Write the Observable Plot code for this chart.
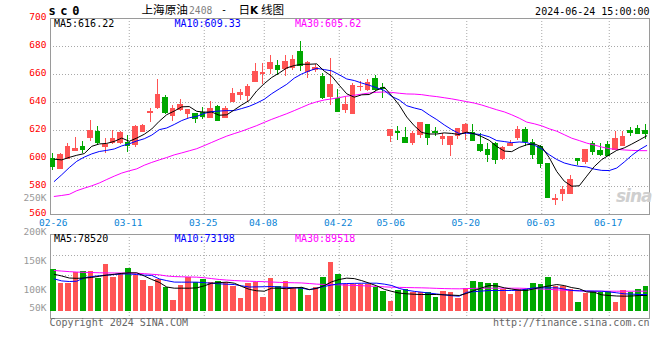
<!DOCTYPE html>
<html><head><meta charset="utf-8">
<script src="https://cdn.jsdelivr.net/npm/d3@7"></script>
<script src="https://cdn.jsdelivr.net/npm/@observablehq/plot@0.6"></script>
<style>
html,body{margin:0;padding:0;background:#fff;}
#wrap{position:relative;width:660px;height:360px;overflow:hidden;background:#fff;}
.t{position:absolute;white-space:nowrap;line-height:1;font-family:"DejaVu Sans Mono",monospace;}
</style></head><body><div id="wrap"></div>
<script>
// ---------------- data ----------------
const dates = ["02-26","02-27","02-28","02-29","03-01","03-04","03-05","03-06","03-07","03-08",
"03-11","03-12","03-13","03-14","03-15","03-18","03-19","03-20","03-21","03-22",
"03-25","03-26","03-27","03-28","03-29","04-01","04-02","04-03","04-08","04-09",
"04-10","04-11","04-12","04-15","04-16","04-17","04-18","04-19","04-22","04-23",
"04-24","04-25","04-26","04-29","04-30","05-06","05-07","05-08","05-09","05-10",
"05-13","05-14","05-15","05-16","05-17","05-20","05-21","05-22","05-23","05-24",
"05-27","05-28","05-29","05-30","05-31","06-03","06-04","06-05","06-06","06-07",
"06-11","06-12","06-13","06-14","06-17","06-18","06-19","06-20","06-21","06-24"];
const open = [599.8,592.6,600.0,605.5,607.9,615.0,619.1,608.5,611.4,611.4,
611.2,610.0,619.0,632.5,636.0,643.4,630.7,634.5,631.9,631.9,
632.5,628.6,637.1,629.0,640.2,645.2,645.0,654.8,660.2,663.6,
666.4,663.6,664.3,676.2,661.9,662.9,658.1,643.6,642.6,635.0,
631.9,650.8,648.6,656.9,650.2,616.4,619.0,614.3,611.2,617.0,
623.9,619.0,613.8,609.8,616.2,617.9,617.9,609.5,606.2,610.2,
600.0,608.8,614.3,620.2,611.4,607.9,596.0,570.5,575.0,575.0,
599.5,597.6,610.7,605.2,610.0,606.0,609.0,619.8,621.4,619.8];
const high = [603.8,603.3,610.5,615.0,612.1,627.0,622.6,614.6,620.0,619.3,
616.2,623.3,624.3,636.0,656.2,644.8,637.6,641.8,634.8,632.4,
636.1,640.6,637.6,637.4,650.0,649.5,652.9,667.9,667.6,673.3,
670.0,673.8,673.6,683.3,669.0,667.1,660.5,671.2,649.0,643.8,
653.3,654.8,656.2,659.0,653.3,620.5,622.6,622.1,619.0,625.5,
624.5,621.9,617.9,616.0,621.7,625.0,624.5,617.9,610.7,611.2,
608.8,613.1,623.1,622.1,613.6,609.5,596.4,574.3,580.2,588.1,
600.0,606.7,611.9,610.7,611.9,619.0,619.0,621.9,623.8,624.3];
const low = [591.4,591.9,599.8,604.8,603.9,612.1,609.8,603.5,610.0,610.0,
604.1,607.9,618.3,625.7,634.8,631.4,626.4,633.3,628.6,624.7,
628.1,628.6,626.4,628.3,640.2,641.7,640.2,654.5,652.9,660.0,
659.5,658.8,662.9,661.9,657.4,661.7,642.1,638.1,632.6,632.1,
631.4,647.6,647.6,647.6,643.1,611.7,612.9,610.7,609.5,614.5,
609.1,616.0,609.3,601.2,613.8,613.1,611.9,604.5,596.9,596.0,
598.8,608.8,612.6,608.8,599.3,592.6,571.2,566.7,569.0,574.5,
595.0,596.0,601.9,601.7,601.2,605.5,608.8,615.5,617.4,613.6];
const close = [593.6,602.6,607.9,606.9,606.3,620.0,610.8,610.0,614.0,618.2,
608.6,622.4,623.3,633.0,645.5,632.2,635.5,638.2,634.3,628.4,
629.3,635.6,627.1,635.5,646.2,646.9,651.2,661.9,661.2,668.3,
662.9,669.0,670.5,666.0,668.3,664.3,642.9,652.6,633.3,638.1,
651.9,651.4,654.0,648.6,649.3,620.5,618.3,611.4,617.4,625.2,
615.0,618.3,615.5,615.5,621.0,623.8,612.6,605.2,602.4,598.8,
607.4,610.7,620.2,611.9,602.4,596.4,571.9,571.0,577.4,584.5,
597.9,606.2,604.8,602.6,601.7,613.8,615.2,618.1,617.4,617.4];
const ma5 = [599.5,599.0,600.8,602.3,603.5,608.7,610.4,610.8,612.2,614.6,
612.3,614.6,617.3,621.1,626.6,631.3,633.9,636.9,637.1,633.7,
633.1,633.2,630.9,631.2,634.7,638.3,641.4,648.3,653.5,657.9,
661.1,664.7,666.4,667.3,667.3,667.6,662.4,658.8,652.3,646.2,
643.8,645.5,645.7,648.8,651.0,644.8,638.1,629.6,623.4,618.6,
617.5,617.5,618.3,617.9,617.1,618.8,617.7,615.6,613.0,608.6,
605.3,604.9,607.9,609.8,610.5,608.3,600.6,590.7,583.8,580.2,
580.5,587.4,594.2,599.2,602.6,605.8,607.6,610.3,613.2,616.2];
const ma10 = [583.6,588.4,593.5,598.0,601.0,603.3,605.0,605.8,606.8,609.0,
610.5,612.5,614.1,616.7,620.6,621.8,624.3,627.1,629.1,630.1,
632.2,633.5,633.9,634.2,634.2,635.7,637.3,639.6,642.3,646.3,
649.7,653.0,657.4,660.4,662.6,664.4,663.5,662.6,659.8,656.8,
655.7,653.9,652.3,650.5,648.6,644.3,641.8,637.7,636.1,634.8,
631.1,627.8,624.0,620.6,617.8,618.1,617.6,617.0,615.5,612.8,
612.1,611.3,611.8,611.4,609.5,606.8,602.7,599.3,596.8,595.4,
594.4,594.0,592.4,591.5,591.4,593.2,597.5,602.2,606.2,609.3];
const ma30 = [572.9,573.6,574.4,577.0,578.8,580.5,582.5,585.0,587.4,589.6,
591.2,592.6,595.2,597.2,599.0,600.7,602.6,604.0,605.5,607.0,
609.2,611.5,613.8,616.0,617.8,619.5,621.5,623.5,625.8,628.0,
630.0,632.0,634.2,636.5,638.8,640.5,641.8,642.6,643.5,644.5,
645.2,646.0,646.8,647.3,647.5,647.2,646.6,646.1,646.0,645.6,
644.8,644.2,643.4,642.6,641.6,640.6,639.6,638.2,636.5,634.8,
633.3,631.2,628.8,626.0,624.8,623.3,621.2,619.5,617.0,614.5,
612.8,611.0,609.6,608.2,607.0,606.6,606.1,605.8,605.6,605.6];
// volume, thousand lots
const volume = [136.2,112.6,112.6,131.0,132.8,132.8,120.7,145.4,122.4,129.9,
138.5,126.4,117.2,106.9,118.4,105.2,83.3,108.6,122.4,113.8,
118.4,113.8,115.5,113.8,107.5,86.2,112.6,114.4,88.5,120.7,
106.3,116.1,104.6,104.6,91.4,104.6,123.0,148.8,128.1,110.3,
110.3,110.3,110.3,105.7,98.8,81.6,100.0,102.3,96.6,96.6,
97.1,88.5,98.8,96.6,86.8,103.4,115.5,113.8,112.1,112.1,
102.3,93.1,102.3,102.3,112.1,110.3,122.4,106.3,106.3,102.3,
79.3,94.8,97.7,96.6,97.7,79.3,100.0,97.1,101.7,106.9];
const volMa5 = [128,125,121.5,121,121.5,122.5,124.5,126.5,128,129.5,
130.5,130.5,125,119,114,106,104,104,104,104.5,
108,112.6,113.5,114.4,112.6,107,102,99.5,98.8,104,
104,103,104.5,105.5,101.5,103.5,108.5,115,119,121.3,
120.5,117,112.6,108,102,98.5,95.5,94.3,93.5,93.1,
93.1,93.1,92.5,92,91.4,95,100,104.5,108.6,108,
104.6,102.5,100.5,100,103,105.7,108,110.3,108.5,105,
103,97.5,97,92.5,91.4,90.5,90.2,90.5,91.4,91.4];
const volMa10 = [120,116.5,115.5,116,122,124,125.5,126.5,127.5,128.5,
128.5,127.5,126.5,126,120,117,114.5,114.4,114.4,114.4,
113.5,112.5,111.5,110.8,110.3,108,106,106.3,106.5,106.9,
106,105.5,104.6,104,101.5,104,107,109.5,111.5,112,
112.3,112.5,112.6,112.6,111,108.6,103.5,100.5,98.5,97.1,
95.5,94,92.5,91,90.2,97,98,99,100,100,
100,100,100.5,102.5,104.6,104.6,104.6,104.6,102.5,100,
99.5,99.2,99,98.8,97.5,96,94.3,93.8,93.1,93.1];
const volMa30 = [134.5,133.5,132.5,131.8,131.3,131,130.6,130.3,130.2,130.1,
130,129.8,129,128,127,125,124,123.6,123.3,123,
122,120.5,119,118,117.2,116.5,116,115.5,115.2,114.6,
114,113.6,113.3,113,112,111,110.4,110.2,109.8,109.2,
108.8,108.3,107.6,107,106.3,105.7,105.4,105.1,104.8,104.6,
104.2,103.7,103.3,103,102.9,103.3,103.7,104,104,104,
104,104,104,103.5,103,102.5,102,101.1,100.5,100,
99.4,98.8,98.8,98.8,98.8,98.8,98.8,98.8,98.8,98.8];
const tickDates = ["02-26","03-11","03-25","04-08","04-22","05-06","05-20","06-03","06-17"];
const priceTicks = [560,580,600,620,640,660,680,700];
const volTicks = [100,150,200];
const volGrid = [160.3,125.9];   // dotted guide lines of the volume panel (K)
const volFloor = 64.3;           // bottom of the volume bars (K)
const legendPrice = [["MA5:616.22","#000000"],["MA10:609.33","#0000ff"],["MA30:605.62","#ff00ff"]];
const legendVol = [["MA5:78520","#000000"],["MA10:73198","#0000ff"],["MA30:89518","#ff00ff"]];

// ---------------- drawing ----------------
const RED = "#ff5454", GREEN = "#00a800", GRID = "#a8a8a8", FRAME = "#9a9a9a";
const rows = dates.map((d, i) => ({
  date: d, open: open[i], high: high[i], low: low[i], close: close[i],
  vol: volume[i], ma5: ma5[i], ma10: ma10[i], ma30: ma30[i],
  vma5: volMa5[i], vma10: volMa10[i], vma30: volMa30[i],
  col: close[i] >= open[i] ? RED : GREEN
}));
const wrap = document.getElementById("wrap");
const baseStyle = {background: "transparent", fontFamily: "'DejaVu Sans Mono', monospace", fontSize: "9.5px", overflow: "visible"};
const mainGeom = {width: 660, height: 230, marginTop: 18, marginBottom: 16, marginLeft: 50, marginRight: 11};
const volGeom = {width: 660, height: 110, marginTop: 14, marginBottom: 12, marginLeft: 50, marginRight: 11};
const xPoint = {type: "point", domain: dates, range: [50, 650], axis: null};
const xBand = {type: "band", domain: dates, range: [50, 650], padding: 0, axis: null};
const yPrice = {domain: [560, 700], axis: null};
const yVol = {domain: [51.72, 196.55], axis: null};

function layer(opts, top, crisp) {
  const svg = Plot.plot({style: baseStyle, color: {type: "identity"}, ...opts});
  svg.style.position = "absolute";
  svg.style.left = "0px";
  svg.style.top = top + "px";
  if (crisp) svg.setAttribute("shape-rendering", "crispEdges");
  wrap.appendChild(svg);
  return svg;
}

// main panel: grid, axes, frame
layer({...mainGeom, x: xPoint, y: yPrice, marks: [
  Plot.ruleY(priceTicks.slice(1, -1), {stroke: GRID, strokeDasharray: "1,2"}),
  Plot.ruleX(tickDates.slice(1), {stroke: GRID, strokeDasharray: "1,2"}),
  Plot.axisY(priceTicks, {tickSize: 0, tickPadding: 4, fill: "#ff0000", dy: -1.5, tickFormat: d => String(d)}),
  Plot.axisX(tickDates, {tickSize: 0, tickPadding: 4.5, fill: "#0a84d6", dx: -1, tickFormat: d => d}),
  Plot.text(["250K"], {text: d => d, frameAnchor: "bottom-left", dx: -4, dy: -14, textAnchor: "end", fill: "#999999"}),
  Plot.frame({stroke: FRAME})
]}, 0);

// candlesticks
layer({...mainGeom, x: xBand, y: yPrice, marks: [
  Plot.ruleX(rows, {x: "date", y1: "low", y2: "high", stroke: "col", dx: -1.4}),
  Plot.barY(rows, {x: "date", y1: "open", y2: "close", fill: "col", stroke: "col", insetLeft: 0, insetRight: 2.8})
]}, 0, true);

// moving averages
layer({...mainGeom, x: xPoint, y: yPrice, marks: [
  Plot.line(rows, {x: "date", y: "ma30", stroke: "#ff00ff", strokeWidth: 1}),
  Plot.line(rows, {x: "date", y: "ma10", stroke: "#0000ff", strokeWidth: 1}),
  Plot.line(rows, {x: "date", y: "ma5", stroke: "#000000", strokeWidth: 1})
]}, 0);

// volume panel: grid, axes, frame
layer({...volGeom, x: xPoint, y: yVol, marks: [
  Plot.ruleY(volGrid, {stroke: GRID, strokeDasharray: "1,2"}),
  Plot.ruleX(tickDates.slice(1), {stroke: GRID, strokeDasharray: "1,2"}),
  Plot.axisY(volTicks, {tickSize: 0, tickPadding: 4, fill: "#999999", dy: -1, tickFormat: d => d + "K"}),
  Plot.text(["50K"], {text: d => d, frameAnchor: "bottom-left", dx: -4, dy: -8, textAnchor: "end", fill: "#999999"}),
  Plot.frame({stroke: FRAME})
]}, 220);

// volume bars
layer({...volGeom, x: xBand, y: yVol, marks: [
  Plot.barY(rows, {x: "date", y1: volFloor, y2: "vol", fill: "col", insetLeft: 0, insetRight: 1.8})
]}, 220, true);

// volume moving averages
layer({...volGeom, x: xPoint, y: yVol, marks: [
  Plot.line(rows, {x: "date", y: "vma30", stroke: "#ff00ff", strokeWidth: 1}),
  Plot.line(rows, {x: "date", y: "vma10", stroke: "#0000ff", strokeWidth: 1}),
  Plot.line(rows, {x: "date", y: "vma5", stroke: "#000000", strokeWidth: 1})
]}, 220);

// ---------------- texts ----------------
function txt(s, x, top, css, right) {
  const d = document.createElement("div");
  d.className = "t";
  d.textContent = s;
  d.style.top = top + "px";
  if (right) d.style.right = (660 - x) + "px"; else d.style.left = x + "px";
  Object.assign(d.style, css || {});
  wrap.appendChild(d);
  return d;
}
txt("sc0", 48.5, 4.8, {fontSize: "12px", fontWeight: "bold", letterSpacing: "4.6px", color: "#000"});
const cjk = {fontFamily: "'Noto Sans CJK SC', sans-serif", fontSize: "11.6px", color: "#000"};
txt("上海原油", 141.5, 3.8, cjk);
txt("2408", 189, 5.6, {fontSize: "9.7px", color: "#808080"});
txt("-", 221, 5.3, {fontSize: "10px", color: "#000"});
txt("日", 238.6, 3.8, cjk);
txt("K", 250, 4.6, {fontFamily: "'DejaVu Sans', sans-serif", fontSize: "10.5px", fontWeight: "bold", color: "#000"});
txt("线图", 261, 3.8, cjk);
txt("2024-06-24 15:00:00", 649.5, 7.2, {fontSize: "10px", color: "#000"}, true);
[54, 174.5, 295].forEach((x, i) => {
  txt(legendPrice[i][0], x, 18.8, {fontSize: "10px", color: legendPrice[i][1]});
  txt(legendVol[i][0], x, 233.5, {fontSize: "10px", color: legendVol[i][1]});
});
txt("sina", 616, 188, {fontFamily: "'DejaVu Sans', sans-serif", fontSize: "17px", fontWeight: "bold", fontStyle: "italic", color: "#cfcfcf", letterSpacing: "-1px"});
txt("Copyright 2024 SINA.COM", 49.5, 317.8, {fontSize: "10px", color: "#666666"});
txt("http://finance.sina.com.cn", 649.5, 317.8, {fontSize: "10px", color: "#666666"}, true);
</script></body></html>
